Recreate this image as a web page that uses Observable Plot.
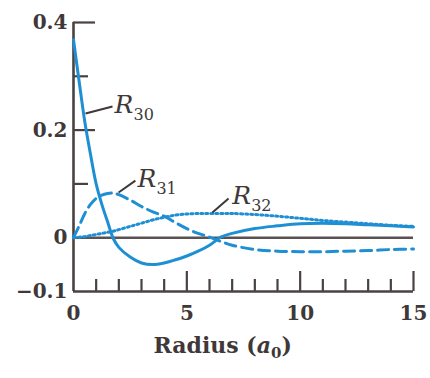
<!DOCTYPE html>
<html>
<head>
<meta charset="utf-8">
<script src="https://cdn.jsdelivr.net/npm/d3@7"></script>
<script src="https://cdn.jsdelivr.net/npm/@observablehq/plot@0.6"></script>
<style>
  body { margin: 0; background: #fff; }
  #chart svg { display: block; }
</style>
</head>
<body>
<div id="chart"></div>
<script>
// Radial wave functions of hydrogen for n = 3 (radius in Bohr radii a0)
const radius = [0, 0.25, 0.5, 0.75, 1, 1.25, 1.5, 1.75, 2, 2.5, 3, 3.5, 4, 4.5, 5, 5.5, 6, 6.5, 7, 8, 9, 10, 11, 12, 13, 14, 15];
const r30 = [0.368, 0.29, 0.215, 0.155, 0.10, 0.062, 0.03, -0.001, -0.018, -0.036, -0.047, -0.050, -0.047, -0.041, -0.034, -0.025, -0.014, 0.001, 0.008, 0.017, 0.022, 0.026, 0.027, 0.026, 0.024, 0.022, 0.020];
const r31 = [0, 0.022, 0.045, 0.062, 0.073, 0.079, 0.082, 0.083, 0.080, 0.070, 0.058, 0.048, 0.040, 0.028, 0.017, 0.008, 0.001, -0.007, -0.014, -0.022, -0.025, -0.026, -0.026, -0.025, -0.024, -0.022, -0.021];
const r32 = [0, 0.001, 0.002, 0.004, 0.006, 0.008, 0.010, 0.012, 0.015, 0.021, 0.027, 0.033, 0.038, 0.042, 0.044, 0.045, 0.045, 0.045, 0.045, 0.043, 0.040, 0.036, 0.032, 0.029, 0.026, 0.023, 0.021];

// Axis ticks
const xTickLabels = [0, 5, 10, 15];
const xMajorTicks = [5, 10, 15];
const xMinorTicks = [1, 2, 3, 4, 6, 7, 8, 9, 11, 12, 13, 14];
const yTickLabels = [0.4, 0.2, 0, -0.1];
const yMajorTicks = [0.4, 0.2];
const yMinorTicks = [0.3, 0.1];

// Curve labels with their leader lines (data units)
const labelNames = ["R", "R", "R"];
const labelSubs = ["30", "31", "32"];
const labelX = [1.81, 2.82, 7.0];
const labelY = [0.246, 0.110, 0.0784];
const leaderX1 = [0.53, 1.99, 6.13];
const leaderY1 = [0.231, 0.084, 0.047];
const leaderX2 = [1.72, 2.73, 6.84];
const leaderY2 = [0.244, 0.106, 0.073];

const xLabelMain = "Radius (";
const xLabelVar = "a";
const xLabelSub = "0";
const xLabelEnd = ")";

const blue = "#1f8fd4";
const ink = "#403838";
const axisInk = "#4a4242";

const rows = (vals) => radius.map((r, i) => ({r, v: vals[i]}));
const labels = labelNames.map((name, i) => ({
  name, sub: labelSubs[i], x: labelX[i], y: labelY[i],
  x1: leaderX1[i], y1: leaderY1[i], x2: leaderX2[i], y2: leaderY2[i]
}));

const fmt = d => d < 0 ? "\u2212" + Math.abs(d) : String(d);

const plot = Plot.plot({
  width: 430,
  height: 378,
  marginLeft: 73,
  marginRight: 17,
  marginTop: 22,
  marginBottom: 87,
  x: {domain: [0, 15]},
  y: {domain: [-0.1, 0.4]},
  style: {fontFamily: "'DejaVu Serif', serif", background: "#fff", overflow: "visible"},
  marks: [
    Plot.axisY(yTickLabels, {tickSize: 0, tickPadding: 6, tickFormat: fmt, fontSize: 20, fontWeight: "bold", fill: ink, label: null}),
    Plot.axisX(xTickLabels, {tickSize: 0, tickPadding: 14, tickFormat: fmt, fontSize: 20, fontWeight: "bold", fill: ink, label: null}),
    // zero line
    Plot.ruleY([0], {stroke: "#5a5252", strokeWidth: 2.4}),
    // inward ticks
    Plot.ruleY(yMajorTicks, {x1: 0, x2: 0, insetRight: -22, stroke: axisInk, strokeWidth: 2.2}),
    Plot.ruleY(yMinorTicks, {x1: 0, x2: 0, insetRight: -15, stroke: axisInk, strokeWidth: 2.2}),
    Plot.ruleX(xMajorTicks, {y1: -0.1, y2: -0.1, insetTop: -20, stroke: axisInk, strokeWidth: 2.2}),
    Plot.ruleX(xMinorTicks, {y1: -0.1, y2: -0.1, insetTop: -12, stroke: axisInk, strokeWidth: 2.2}),
    // axis frame (left and bottom)
    Plot.ruleX([0], {y1: -0.1, y2: 0.4, stroke: axisInk, strokeWidth: 2.6}),
    Plot.ruleY([-0.1], {x1: 0, x2: 15, stroke: axisInk, strokeWidth: 2.6}),
    // wave functions
    Plot.line(rows(r32), {x: "r", y: "v", stroke: blue, strokeWidth: 3, strokeDasharray: "2,3", curve: "catmull-rom"}),
    Plot.line(rows(r31), {x: "r", y: "v", stroke: blue, strokeWidth: 3, strokeDasharray: "11,6", curve: "catmull-rom"}),
    Plot.line(rows(r30), {x: "r", y: "v", stroke: blue, strokeWidth: 3, curve: "catmull-rom"}),
    // labels
    Plot.link(labels, {x1: "x1", y1: "y1", x2: "x2", y2: "y2", stroke: ink, strokeWidth: 2}),
    Plot.text(labels, {x: "x", y: "y", text: "name", textAnchor: "start", fontSize: 25, fontStyle: "italic", fill: ink}),
    Plot.text(labels, {x: "x", y: "y", text: "sub", textAnchor: "start", dx: 19, dy: 10, fontSize: 16, fill: ink}),
    // x-axis title
    Plot.text([xLabelMain], {x: 3.53, frameAnchor: "bottom", dy: 61, textAnchor: "start", fontSize: 22, fontWeight: "bold", fill: ink})
  ]
});

// Compose the x-axis title with an italic variable and a subscript
d3.select(plot).selectAll("text").filter(function() { return this.textContent === xLabelMain; })
  .each(function() {
    const t = d3.select(this);
    t.text(null);
    t.append("tspan").text(xLabelMain);
    t.append("tspan").attr("font-style", "italic").text(xLabelVar);
    t.append("tspan").attr("font-size", 15).attr("dy", 5).text(xLabelSub);
    t.append("tspan").attr("dy", -5).text(xLabelEnd);
  });

document.getElementById("chart").appendChild(plot);
</script>
</body>
</html>
